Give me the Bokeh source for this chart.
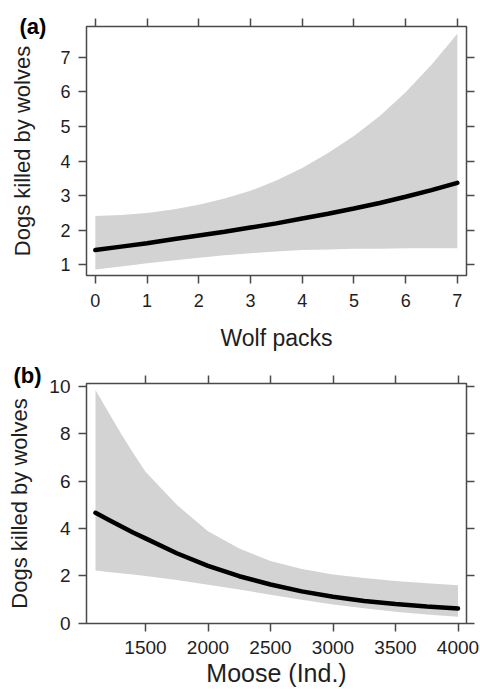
from bokeh.plotting import figure
from bokeh.models import Range1d, LinearAxis, FixedTicker, Title
from bokeh.layouts import column
from bokeh.embed import file_html
from bokeh.resources import INLINE

# ---------------- data ----------------
packs = [0, 0.5, 1, 1.5, 2, 2.5, 3, 3.5, 4, 4.5, 5, 5.5, 6, 6.5, 7]
packs_mean = [1.43, 1.53, 1.63, 1.74, 1.85, 1.96, 2.08, 2.20, 2.34, 2.48, 2.63, 2.79, 2.97, 3.16, 3.37]
packs_upper = [2.41, 2.44, 2.50, 2.60, 2.74, 2.92, 3.14, 3.44, 3.80, 4.23, 4.72, 5.30, 5.98, 6.78, 7.67]
packs_lower = [0.87, 0.96, 1.05, 1.13, 1.21, 1.28, 1.34, 1.39, 1.43, 1.45, 1.47, 1.47, 1.48, 1.48, 1.48]

moose = [1100, 1200, 1300, 1400, 1500, 1750, 2000, 2250, 2500, 2750, 3000, 3250, 3500, 3750, 4000]
moose_mean = [4.66, 4.38, 4.10, 3.83, 3.58, 2.95, 2.42, 1.98, 1.63, 1.34, 1.11, 0.93, 0.80, 0.70, 0.61]
moose_upper = [9.86, 8.95, 8.05, 7.20, 6.40, 5.00, 3.88, 3.15, 2.62, 2.28, 2.05, 1.90, 1.78, 1.68, 1.60]
moose_lower = [2.22, 2.16, 2.10, 2.05, 1.99, 1.82, 1.62, 1.42, 1.20, 0.98, 0.78, 0.62, 0.48, 0.36, 0.27]

packs_xticks = [0, 1, 2, 3, 4, 5, 6, 7]
packs_yticks = [1, 2, 3, 4, 5, 6, 7]
moose_xticks = [1500, 2000, 2500, 3000, 3500, 4000]
moose_yticks = [0, 2, 4, 6, 8, 10]

x_label_a = "Wolf packs"
x_label_b = "Moose (Ind.)"
y_label = "Dogs killed by wolves"
panel_a = "(a)"
panel_b = "(b)"

# ---------------- style ----------------
FONT = "Liberation Sans"
AX = "#4a4a4a"
TXT = "#1e1e1e"
BAND = "#d3d3d3"


def style_axis(ax, ticks, size, standoff, show=True):
    ax.ticker = FixedTicker(ticks=ticks)
    ax.axis_line_color = None
    ax.major_tick_line_color = AX
    ax.major_tick_line_width = 1.5
    ax.major_tick_out = 8
    ax.major_tick_in = 0
    ax.minor_tick_line_color = None
    ax.major_label_text_font = FONT
    if show:
        ax.major_label_text_font_size = size
        ax.major_label_text_color = TXT
        ax.major_label_standoff = standoff
    else:
        ax.major_label_text_font_size = "0px"
        ax.major_label_text_color = None
        ax.major_label_standoff = 0


def make_panel(height, top, bottom, left, xr, yr, xticks, yticks, tick_size,
               xstand, ystand, xlabel, xlabel_size, xlabel_stand, ylabel_stand,
               tag, tag_offset, tag_outer):
    p = figure(width=480, height=height, output_backend="svg", toolbar_location=None,
               x_range=Range1d(*xr), y_range=Range1d(*yr),
               min_border_left=left, min_border_right=14,
               min_border_top=top, min_border_bottom=bottom)
    p.xgrid.visible = False
    p.ygrid.visible = False
    p.outline_line_color = AX
    p.outline_line_width = 1.5
    p.background_fill_color = "white"
    p.border_fill_color = "white"

    xa = p.xaxis[0]
    ya = p.yaxis[0]
    style_axis(xa, xticks, tick_size, xstand)
    style_axis(ya, yticks, tick_size, ystand)
    xa.axis_label = xlabel
    xa.axis_label_text_font = FONT
    xa.axis_label_text_font_size = xlabel_size
    xa.axis_label_text_font_style = "normal"
    xa.axis_label_text_color = TXT
    xa.axis_label_standoff = xlabel_stand
    ya.axis_label = y_label
    ya.axis_label_text_font = FONT
    ya.axis_label_text_font_size = "22px"
    ya.axis_label_text_font_style = "normal"
    ya.axis_label_text_color = TXT
    ya.axis_label_standoff = ylabel_stand

    # panel tag as a zero-height title
    tag_title = Title(text=tag, align="left", offset=tag_offset,
                      vertical_align="middle", standoff=-27,
                      text_font=FONT, text_font_size="22px",
                      text_font_style="bold", text_color="black")
    top_ax = LinearAxis()
    style_axis(top_ax, xticks, tick_size, 0, show=False)
    if tag_outer:
        p.add_layout(top_ax, "above")
        p.add_layout(tag_title, "above")
    else:
        p.add_layout(tag_title, "above")
        p.add_layout(top_ax, "above")
    right_ax = LinearAxis()
    style_axis(right_ax, yticks, tick_size, 0, show=False)
    p.add_layout(right_ax, "right")
    return p


# ---------------- panel (a) ----------------
pa = make_panel(353, 26, 78, 80, (-0.171, 7.177), (0.697, 7.88),
                packs_xticks, packs_yticks, "18px", 10, 8,
                x_label_a, "23px", 15, 22, panel_a, -67, False)
pa.varea(x=packs, y1=packs_lower, y2=packs_upper, fill_color=BAND, fill_alpha=1.0)
pa.line(packs, packs_mean, line_color="black", line_width=4.5, line_cap="round")

# ---------------- panel (b) ----------------
pb = make_panel(336, 30, 66, 86, (1028, 4068), (-0.02, 10.13),
                moose_xticks, moose_yticks, "19px", 9, 8,
                x_label_b, "25px", 2, 14, panel_b, -73, True)
pb.varea(x=moose, y1=moose_lower, y2=moose_upper, fill_color=BAND, fill_alpha=1.0)
pb.line(moose, moose_mean, line_color="black", line_width=4.5, line_cap="round")

layout = column(pa, pb)
open("out.html", "w").write(file_html(layout, INLINE))
